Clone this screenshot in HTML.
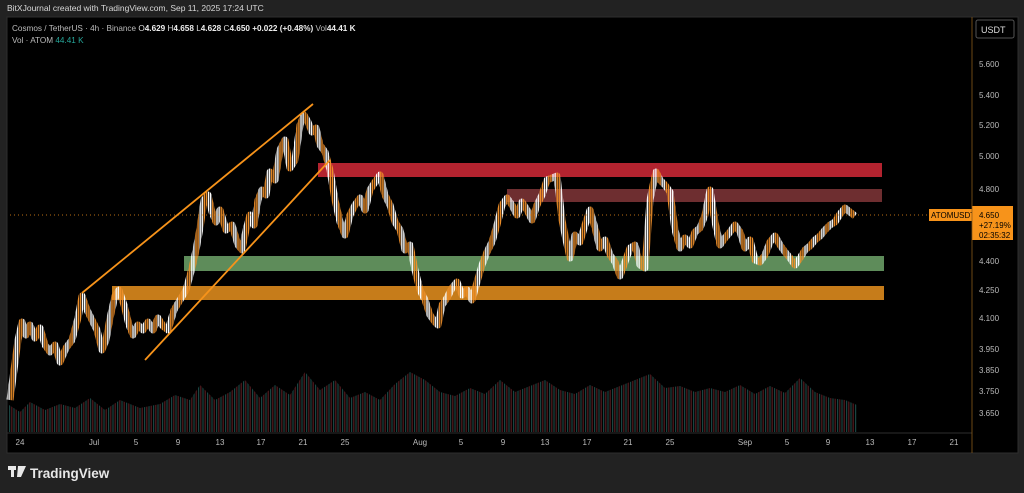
<!DOCTYPE html>
<html><head><meta charset="utf-8"><style>
body{margin:0;width:1024px;height:493px;background:#222;overflow:hidden;font-family:"Liberation Sans",sans-serif}
svg{position:absolute;left:0;top:0}
</style></head><body>
<svg width="1024" height="493" xmlns="http://www.w3.org/2000/svg">
<defs>
<pattern id="vol" x="0" y="0" width="9" height="100" patternUnits="userSpaceOnUse">
<rect x="0" y="0" width="1.2" height="100" fill="#1a4542"/><rect x="2.2" y="0" width="1.2" height="100" fill="#541c20"/><rect x="4.4" y="0" width="1.2" height="100" fill="#1a4542"/><rect x="6.6" y="0" width="1.2" height="100" fill="#541c20"/>
</pattern>
<pattern id="cdl" x="0" y="0" width="8.4" height="10" patternUnits="userSpaceOnUse">
<rect x="0" y="0" width="1.4" height="10" fill="#ffffff"/><rect x="2.1" y="0" width="1.4" height="10" fill="#f0902a"/><rect x="4.2" y="0" width="1.4" height="10" fill="#f0902a"/><rect x="6.3" y="0" width="1.4" height="10" fill="#ffffff"/>
</pattern>
</defs>
<rect x="0" y="0" width="1024" height="493" fill="#222"/>
<text x="7" y="11" fill="#d8d8d8" font-size="8.5">BitXJournal created with TradingView.com, Sep 11, 2025 17:24 UTC</text>
<rect x="7" y="17" width="1011" height="436" fill="#000" stroke="#2e2e2e"/>
<line x1="7" y1="433" x2="972" y2="433" stroke="#2e2e2e"/>
<path fill="url(#vol)" d="M9,432 L9,405 20,412 30,402 45,410 60,404 75,408 90,398 105,410 120,400 140,408 160,404 175,395 190,400 200,385 215,400 230,392 245,380 260,398 275,385 290,395 305,372 320,390 335,380 350,398 365,392 380,400 395,384 410,372 425,380 440,392 455,396 470,388 485,394 500,380 515,392 530,386 545,380 560,390 575,394 590,385 605,392 620,386 635,380 650,374 665,388 680,386 695,392 710,388 725,392 740,385 755,394 770,386 785,393 800,378 815,392 830,398 845,400 857,405 857,432 Z"/>
<rect x="318" y="163" width="564" height="14" fill="#b3232f"/>
<rect x="507" y="189" width="375" height="13" fill="#6e2e30"/>
<rect x="184" y="256" width="700" height="15" fill="#5e8c5a"/>
<rect x="112" y="286" width="772" height="14" fill="#c67c1a"/>
<polyline fill="none" stroke="url(#cdl)" stroke-width="7" stroke-linejoin="round" points="10,400 14,370 18,340 22,322 26,335 30,325 35,338 40,328 45,345 50,352 55,345 60,362 66,348 72,340 78,318 82,296 87,310 92,320 97,330 102,350 106,340 110,318 115,296 119,290 124,305 129,325 133,335 138,325 143,330 148,322 153,330 158,318 163,326 168,330 174,310 180,300 186,290 192,268 196,250 200,228 204,200 208,195 212,212 216,222 220,210 226,230 232,225 238,245 242,250 246,230 250,215 254,225 258,200 262,190 266,195 270,172 275,180 280,150 285,140 290,168 295,160 300,125 304,115 308,122 312,132 316,128 320,145 325,152 330,170 335,200 340,222 345,235 350,215 355,205 360,198 365,210 370,190 375,182 380,175 385,195 390,205 395,222 400,230 405,250 410,245 415,270 420,290 425,300 430,315 435,322 438,325 442,305 447,298 452,288 457,282 462,295 467,290 472,300 477,282 482,265 487,252 492,242 497,225 502,205 507,198 512,205 517,215 522,202 527,210 532,220 537,205 542,195 547,180 552,178 557,176 562,220 566,240 570,258 575,235 580,242 585,225 590,210 595,228 600,248 605,240 610,255 615,262 620,276 625,262 630,248 635,245 640,265 645,268 650,200 653,185 656,172 660,180 665,185 670,192 675,230 680,248 685,238 690,245 695,232 700,228 705,215 710,190 715,222 720,245 725,238 730,232 735,225 740,232 745,248 750,240 755,260 760,262 765,255 770,242 775,236 780,245 785,252 790,258 795,265 800,258 805,250 810,246 815,240 820,236 825,230 830,225 835,222 840,214 845,208 850,212 855,216"/>
<line x1="82" y1="293" x2="313" y2="104" stroke="#f7931a" stroke-width="1.8"/>
<line x1="145" y1="360" x2="330" y2="160" stroke="#f7931a" stroke-width="1.8"/>
<line x1="10" y1="215" x2="929" y2="215" stroke="#f7931a" stroke-width="0.7" stroke-dasharray="1,3"/>
<rect x="929" y="209" width="43" height="12" fill="#f7931a"/><text x="931" y="218" font-size="8" fill="#000">ATOMUSDT</text>
<rect x="972" y="206" width="41" height="34" fill="#f7931a"/><text x="979" y="218" font-size="8" fill="#000">4.650</text><text x="979" y="228" font-size="8" fill="#000">+27.19%</text><text x="979" y="238" font-size="8" fill="#000">02:35:32</text>
<line x1="972" y1="17" x2="972" y2="453" stroke="#8a5a1a" stroke-width="0.8"/>
<rect x="976" y="20" width="38" height="18" fill="#000" stroke="#555" rx="2"/>
<text x="981" y="33" fill="#ddd" font-size="9">USDT</text>
<text x="12" y="31" fill="#bbb" font-size="8.2">Cosmos / TetherUS · 4h · Binance <tspan fill="#ddd">O</tspan><tspan fill="#eee" font-weight="bold">4.629 </tspan><tspan fill="#ddd">H</tspan><tspan fill="#eee" font-weight="bold">4.658 </tspan><tspan fill="#ddd">L</tspan><tspan fill="#eee" font-weight="bold">4.628 </tspan><tspan fill="#ddd">C</tspan><tspan fill="#eee" font-weight="bold">4.650 +0.022 (+0.48%) </tspan>Vol<tspan fill="#eee" font-weight="bold">44.41 K</tspan></text>
<text x="12" y="43" fill="#bbb" font-size="8.2">Vol · ATOM <tspan fill="#26a69a">44.41 K</tspan></text>
<g fill="#bbb" font-size="8">
<text x="979" y="67">5.600</text><text x="979" y="98">5.400</text><text x="979" y="128">5.200</text><text x="979" y="159">5.000</text><text x="979" y="192">4.800</text><text x="979" y="264">4.400</text><text x="979" y="293">4.250</text><text x="979" y="321">4.100</text><text x="979" y="352">3.950</text><text x="979" y="373">3.850</text><text x="979" y="394">3.750</text><text x="979" y="416">3.650</text>
</g>
<g fill="#bbb" font-size="8" text-anchor="middle">
<text x="20" y="445">24</text><text x="94" y="445">Jul</text><text x="136" y="445">5</text><text x="178" y="445">9</text><text x="220" y="445">13</text><text x="261" y="445">17</text><text x="303" y="445">21</text><text x="345" y="445">25</text><text x="420" y="445">Aug</text><text x="461" y="445">5</text><text x="503" y="445">9</text><text x="545" y="445">13</text><text x="587" y="445">17</text><text x="628" y="445">21</text><text x="670" y="445">25</text><text x="745" y="445">Sep</text><text x="787" y="445">5</text><text x="828" y="445">9</text><text x="870" y="445">13</text><text x="912" y="445">17</text><text x="954" y="445">21</text>
</g>
<text x="30" y="478" fill="#e8e8e8" font-size="13.5" font-weight="bold">TradingView</text>
<rect x="8" y="466" width="8" height="4" fill="#e8e8e8"/><rect x="11" y="466" width="3" height="11" fill="#e8e8e8"/><polygon points="18,466 26,466 21,477 17,477" fill="#e8e8e8"/>
</svg>
</body></html>
